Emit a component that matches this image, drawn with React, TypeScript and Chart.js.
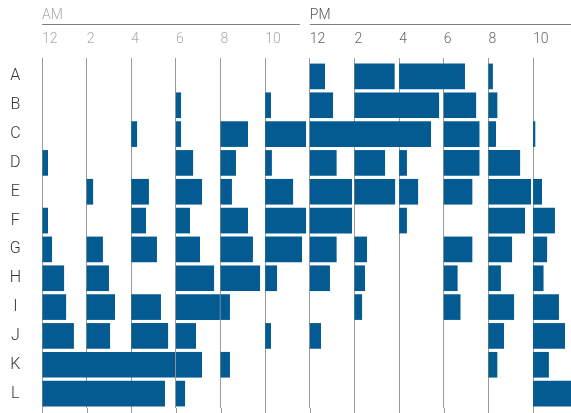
import React, { useEffect, useRef } from "react";
import { Chart, registerables } from "chart.js";

Chart.register(...registerables);

// Row labels
const categories = ["A", "B", "C", "D", "E", "F", "G", "H", "I", "J", "K", "L"];
// Start hour of each two-hour block (0 = 12 AM, 12 = 12 PM)
const slotStarts = [0, 2, 4, 6, 8, 10, 12, 14, 16, 18, 20, 22];
// Tick labels for each block
const tickLabels = ["12", "2", "4", "6", "8", "10", "12", "2", "4", "6", "8", "10"];
// Duration in hours of the bar that begins at each block (0 = no bar)
const rowA = [0, 0, 0, 0, 0, 0, 0.68, 1.8, 2.95, 0, 0.2, 0];
const rowB = [0, 0, 0, 0.23, 0, 0.26, 1.04, 3.79, 0, 1.45, 0.4, 0];
const rowC = [0, 0, 0.26, 0.23, 1.23, 1.83, 5.43, 0, 0, 1.6, 0.34, 0.1];
const rowD = [0.27, 0, 0, 0.77, 0.69, 0.3, 1.2, 1.37, 0.35, 1.6, 1.42, 0];
const rowE = [0, 0.29, 0.79, 1.17, 0.51, 1.25, 1.89, 1.82, 0.85, 1.28, 1.91, 0.4];
const rowF = [0.27, 0, 0.66, 0.63, 1.23, 1.83, 1.89, 0, 0.35, 0, 1.64, 0.98];
const rowG = [0.45, 0.73, 1.15, 1.08, 1.45, 1.65, 1.2, 0.56, 0, 1.28, 1.06, 0.63];
const rowH = [0.99, 1.0, 0, 1.71, 1.77, 0.53, 0.9, 0.47, 0, 0.62, 0.56, 0.47];
const rowI = [1.08, 1.27, 1.33, 1.97, 0.42, 0, 0, 0.34, 0, 0.75, 1.15, 1.16];
const rowJ = [1.43, 1.05, 1.65, 0.9, 0, 0.26, 0.5, 0, 0, 0, 0.7, 1.43];
const rowK = [5.96, 0, 0, 1.17, 0.42, 0, 0, 0, 0, 0, 0.4, 0.71];
const rowL = [5.51, 0, 0, 0.41, 0, 0, 0, 0, 0, 0, 0, 2.0];

const rows = [rowA, rowB, rowC, rowD, rowE, rowF, rowG, rowH, rowI, rowJ, rowK, rowL];

const BAR = "#035b92";
const GRID = "#9a9a9a";
const FONT = "Roboto, 'Helvetica Neue', Arial, sans-serif";

const headerPlugin = {
  id: "header",
  beforeDatasetsDraw(chart: any) {
    // extend the hour grid lines below the plot area
    const ctx = chart.ctx;
    const x = chart.scales.x;
    const { bottom } = chart.chartArea;
    ctx.save();
    ctx.strokeStyle = GRID;
    ctx.lineWidth = 1;
    ctx.beginPath();
    slotStarts.forEach((v) => {
      const px = Math.round(x.getPixelForValue(v)) + 0.5;
      ctx.moveTo(px, bottom);
      ctx.lineTo(px, chart.height);
    });
    ctx.stroke();
    ctx.restore();
  },
  afterDraw(chart: any) {
    const ctx = chart.ctx;
    const x = chart.scales.x;
    const right = chart.chartArea.right;
    ctx.save();
    ctx.font = `300 14px ${FONT}`;
    ctx.textBaseline = "alphabetic";
    ctx.textAlign = "left";
    ctx.fillStyle = "#aaaaaa";
    ctx.fillText("AM", x.getPixelForValue(0), 19);
    ctx.fillStyle = "#555555";
    ctx.fillText("PM", x.getPixelForValue(12), 19);
    ctx.strokeStyle = "#808080";
    ctx.lineWidth = 1;
    ctx.beginPath();
    ctx.moveTo(x.getPixelForValue(0), 24.5);
    ctx.lineTo(x.getPixelForValue(11.56), 24.5);
    ctx.moveTo(x.getPixelForValue(12), 24.5);
    ctx.lineTo(right, 24.5);
    ctx.stroke();
    ctx.restore();
  },
};

export default function App() {
  const ref = useRef<HTMLCanvasElement>(null);

  useEffect(() => {
    if (!ref.current) return;
    const datasets = slotStarts.map((start, s) => ({
      label: String(start),
      data: rows.map((r) => (r[s] > 0 ? [start, start + r[s]] : null)),
      backgroundColor: BAR,
      borderWidth: 0,
      grouped: false,
      barPercentage: 0.89,
      categoryPercentage: 1,
    }));
    const chart = new Chart(ref.current, {
      type: "bar",
      data: { labels: categories, datasets: datasets as any },
      options: {
        indexAxis: "y",
        animation: false,
        responsive: false,
        maintainAspectRatio: false,
        layout: { padding: { top: 0, left: 0, right: 0, bottom: 5 } },
        plugins: { legend: { display: false }, tooltip: { enabled: false } },
        scales: {
          x: {
            type: "linear",
            position: "top",
            min: 0,
            max: 23.7,
            border: { display: false },
            grid: { color: GRID, lineWidth: 1, drawTicks: true, tickLength: 4, tickColor: GRID },
            ticks: {
              stepSize: 2,
              includeBounds: false,
              autoSkip: false,
              maxRotation: 0,
              align: "start",
              padding: 10,
              font: { family: FONT, size: 14, weight: "300" },
              color: (c: any) => (c.tick && c.tick.value >= 12 ? "#666666" : "#aaaaaa"),
              callback: (v: any) => tickLabels[slotStarts.indexOf(Number(v))] ?? "",
            },
            afterFit: (s: any) => {
              s.height = 62;
            },
          },
          y: {
            type: "category",
            offset: true,
            border: { display: false },
            grid: { display: false, drawTicks: false },
            ticks: {
              crossAlign: "center",
              padding: 21,
              color: "#333333",
              font: { family: FONT, size: 16, weight: "300" },
            },
            afterFit: (s: any) => {
              s.width = 42;
              s.paddingTop = 0;
              s.paddingBottom = 0;
            },
          },
        } as any,
      },
      plugins: [headerPlugin],
    });
    return () => chart.destroy();
  }, []);

  return (
    <div style={{ position: "fixed", left: 0, top: 0, width: 571, height: 413, background: "#fff" }}>
      <canvas ref={ref} width={571} height={413} style={{ display: "block", width: 571, height: 413 }} />
    </div>
  );
}
